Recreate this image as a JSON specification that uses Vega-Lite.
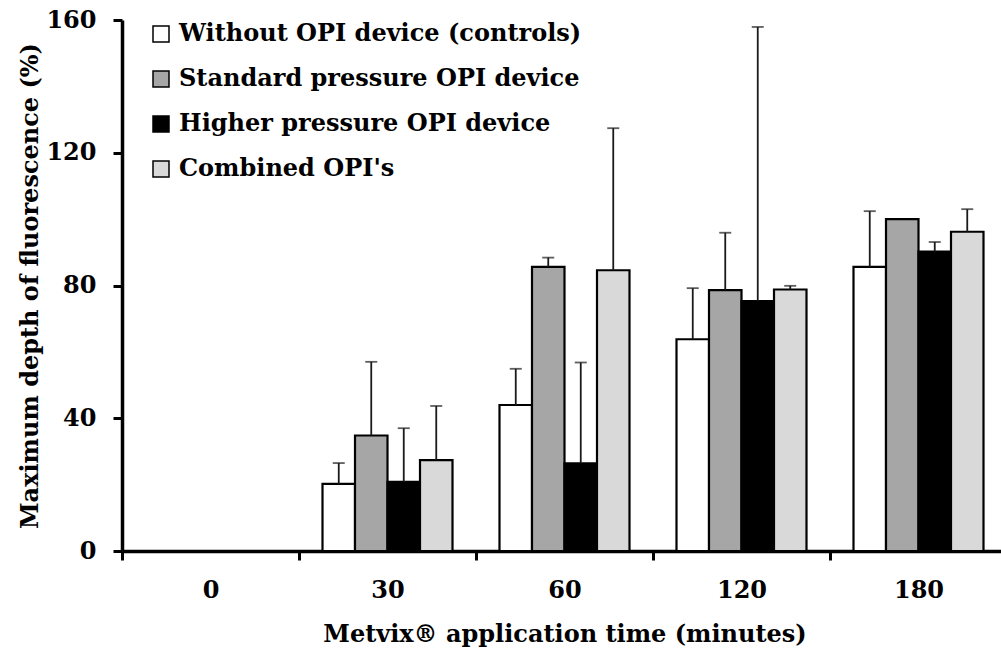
{
  "$schema": "https://vega.github.io/schema/vega-lite/v6.json",
  "width": 885,
  "height": 531,
  "autosize": {"type": "none"},
  "padding": {"left": 122, "top": 20, "right": 0, "bottom": 106},
  "background": "white",
  "config": {
    "view": {"stroke": null},
    "font": "DejaVu Serif",
    "axis": {"labelFont": "DejaVu Serif", "titleFont": "DejaVu Serif", "labelFontWeight": "bold", "titleFontWeight": "bold", "labelColor": "black", "titleColor": "black", "domainColor": "black", "tickColor": "black"}
  },
  "data": {
    "values": [
      {"time": "30", "group": "Without OPI device (controls)", "value": 20.2, "err": 26.5},
      {"time": "30", "group": "Standard pressure OPI device", "value": 34.8, "err": 57},
      {"time": "30", "group": "Higher pressure OPI device", "value": 20.8, "err": 37},
      {"time": "30", "group": "Combined OPI's", "value": 27.4, "err": 43.7},
      {"time": "60", "group": "Without OPI device (controls)", "value": 44, "err": 54.9},
      {"time": "60", "group": "Standard pressure OPI device", "value": 85.6, "err": 88.4},
      {"time": "60", "group": "Higher pressure OPI device", "value": 26.4, "err": 56.8},
      {"time": "60", "group": "Combined OPI's", "value": 84.6, "err": 127.4},
      {"time": "120", "group": "Without OPI device (controls)", "value": 63.8, "err": 79.2},
      {"time": "120", "group": "Standard pressure OPI device", "value": 78.6, "err": 95.9},
      {"time": "120", "group": "Higher pressure OPI device", "value": 75.3, "err": 157.9},
      {"time": "120", "group": "Combined OPI's", "value": 78.8, "err": 79.9},
      {"time": "180", "group": "Without OPI device (controls)", "value": 85.6, "err": 102.4},
      {"time": "180", "group": "Standard pressure OPI device", "value": 100, "err": null},
      {"time": "180", "group": "Higher pressure OPI device", "value": 90.2, "err": 93.1},
      {"time": "180", "group": "Combined OPI's", "value": 96.2, "err": 103}
    ]
  },
  "encoding": {
    "x": {
      "field": "time", "type": "nominal",
      "scale": {"domain": ["0", "30", "60", "120", "180"], "paddingInner": 0, "paddingOuter": 0},
      "axis": {"title": "Metvix® application time (minutes)", "labelAngle": 0, "labelFontSize": 24, "titleFontSize": 24, "tickBand": "extent", "tickSize": 9, "tickWidth": 3, "domainWidth": 3.5, "labelPadding": 18, "titlePadding": 20}
    },
    "xOffset": {
      "field": "group", "type": "nominal",
      "scale": {"domain": ["Without OPI device (controls)", "Standard pressure OPI device", "Higher pressure OPI device", "Combined OPI's"], "paddingInner": 0, "paddingOuter": 0.723}
    }
  },
  "layer": [
    {
      "mark": {"type": "bar", "stroke": "black", "strokeWidth": 2.2},
      "encoding": {
        "y": {
          "field": "value", "type": "quantitative",
          "scale": {"domain": [0, 160], "nice": false},
          "axis": {"title": "Maximum depth of fluorescence (%)", "values": [0, 40, 80, 120, 160], "grid": false, "labelFontSize": 24, "titleFontSize": 24, "tickSize": 9, "tickWidth": 3, "domainWidth": 3.5, "labelPadding": 17, "titlePadding": 3}
        },
        "fill": {
          "field": "group", "type": "nominal",
          "scale": {"domain": ["Without OPI device (controls)", "Standard pressure OPI device", "Higher pressure OPI device", "Combined OPI's"], "range": ["#ffffff", "#a6a6a6", "#000000", "#d9d9d9"]},
          "legend": {"title": null, "orient": "none", "legendX": 27, "legendY": 2, "symbolType": "square", "symbolSize": 256, "symbolStrokeColor": "black", "symbolStrokeWidth": 1.5, "labelFont": "DejaVu Serif", "labelFontWeight": "bold", "labelFontSize": 24, "labelColor": "black", "labelOffset": 6, "rowPadding": 21, "labelLimit": 600}
        }
      }
    },
    {
      "transform": [{"filter": "datum.err != null"}],
      "mark": {"type": "rule", "color": "#1a1a1a", "strokeWidth": 1.8},
      "encoding": {
        "y": {"field": "value", "type": "quantitative"},
        "y2": {"field": "err"}
      }
    },
    {
      "transform": [{"filter": "datum.err != null"}],
      "mark": {"type": "tick", "orient": "horizontal", "color": "#1a1a1a", "size": 12, "thickness": 1.8},
      "encoding": {
        "y": {"field": "err", "type": "quantitative"}
      }
    }
  ]
}
